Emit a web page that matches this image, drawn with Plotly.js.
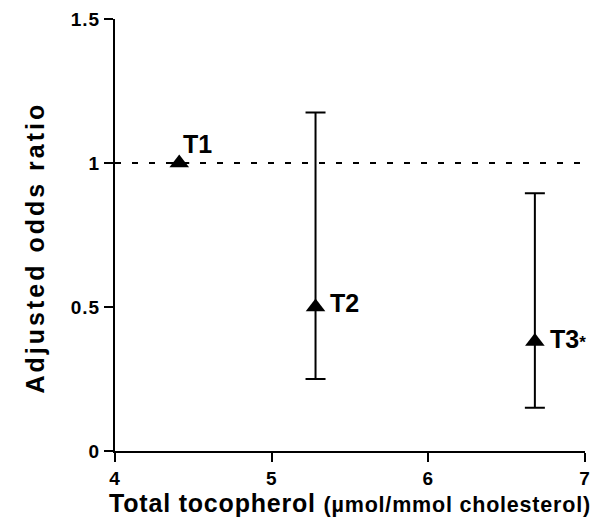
<!DOCTYPE html>
<html>
<head>
<meta charset="utf-8">
<script src="https://cdn.plot.ly/plotly-3.0.1.min.js"></script>
<style>
html,body{margin:0;padding:0;background:#fff;}
#chart{width:596px;height:519px;}
#chart g.annotation[data-index="3"] text{letter-spacing:3px;}
#chart .xtitle{letter-spacing:0.8px;}
#chart .xtick text, #chart .ytick text{letter-spacing:1px;font-weight:bold !important;}
</style>
</head>
<body>
<div id="chart"></div>
<script>
// Data
const groups = ["T1", "T2", "T3<span style='font-size:17px'>*</span>"];
const tocopherol = [4.41, 5.28, 6.68];
const oddsRatio = [1.0, 0.5, 0.38];
const ciUpper = [null, 1.175, 0.895];
const ciLower = [null, 0.25, 0.15];
const xTickVals = [4, 5, 6, 7];
const xTickText = ["4", "5", "6", "7"];
const yTickVals = [0, 0.5, 1, 1.5];
const yTickText = ["0", "0.5", "1", "1.5"];
const yTitleText = "Adjusted odds ratio";
const referenceOdds = 1;

// label placement offsets (style, pixels)
const labelShiftX = [2, 12, 13];
const labelShiftY = [19, 4, 3];

const errPlus = oddsRatio.map((v, i) => ciUpper[i] == null ? 0 : ciUpper[i] - v);
const errMinus = oddsRatio.map((v, i) => ciLower[i] == null ? 0 : v - ciLower[i]);

const FONT = "Liberation Sans, Arial, sans-serif";
const bold = s => "<b>" + s + "</b>";

const traces = [{
  type: "scatter",
  mode: "markers",
  x: tocopherol,
  y: oddsRatio,
  marker: {symbol: "triangle-up", size: 17, color: "#000"},
  error_y: {
    type: "data",
    symmetric: false,
    array: errPlus,
    arrayminus: errMinus,
    color: "#000",
    thickness: 2,
    width: 10
  },
  cliponaxis: false,
  hoverinfo: "skip"
}];

const annotations = groups.map((g, i) => ({
  x: tocopherol[i],
  y: oddsRatio[i],
  xref: "x",
  yref: "y",
  text: bold(g),
  showarrow: false,
  xanchor: "left",
  yanchor: "middle",
  xshift: labelShiftX[i],
  yshift: labelShiftY[i],
  font: {family: FONT, size: 25, color: "#000"}
}));

// y-axis title as a rotated annotation (index 3)
annotations.push({
  xref: "paper", x: 0, xshift: -80, xanchor: "center",
  yref: "paper", y: 0.5, yshift: -13, yanchor: "middle",
  text: bold(yTitleText),
  textangle: -90,
  showarrow: false,
  font: {family: FONT, size: 25, color: "#000"}
});

const layout = {
  width: 596,
  height: 519,
  margin: {l: 115, r: 11, t: 19, b: 68},
  paper_bgcolor: "#fff",
  plot_bgcolor: "#fff",
  showlegend: false,
  font: {family: FONT, color: "#000"},
  xaxis: {
    range: [4, 7],
    tickvals: xTickVals,
    ticktext: xTickText,
    ticks: "outside",
    ticklen: 9,
    tickwidth: 2,
    tickcolor: "#000",
    showline: true,
    linewidth: 2,
    linecolor: "#000",
    showgrid: false,
    zeroline: false,
    tickfont: {family: FONT, size: 19, weight: 700, color: "#000"},
    title: {
      text: "<b>Total tocopherol</b> <b><span style='font-size:21.5px'>(µmol/mmol cholesterol)</span></b>",
      font: {family: FONT, size: 25, color: "#000"},
      standoff: 0
    }
  },
  yaxis: {
    range: [0, 1.5],
    tickvals: yTickVals,
    ticktext: yTickText,
    ticks: "outside",
    ticklen: 9,
    tickwidth: 2,
    tickcolor: "#000",
    showline: true,
    linewidth: 2,
    linecolor: "#000",
    showgrid: false,
    zeroline: false,
    tickfont: {family: FONT, size: 19, weight: 700, color: "#000"}
  },
  annotations: annotations,
  shapes: [{
    type: "line",
    xref: "paper", x0: 0, x1: 1,
    yref: "y", y0: referenceOdds, y1: referenceOdds,
    line: {color: "#000", width: 2, dash: "6px,11px"},
    layer: "below"
  }]
};

Plotly.newPlot("chart", traces, layout, {displayModeBar: false, staticPlot: true});
</script>
</body>
</html>
